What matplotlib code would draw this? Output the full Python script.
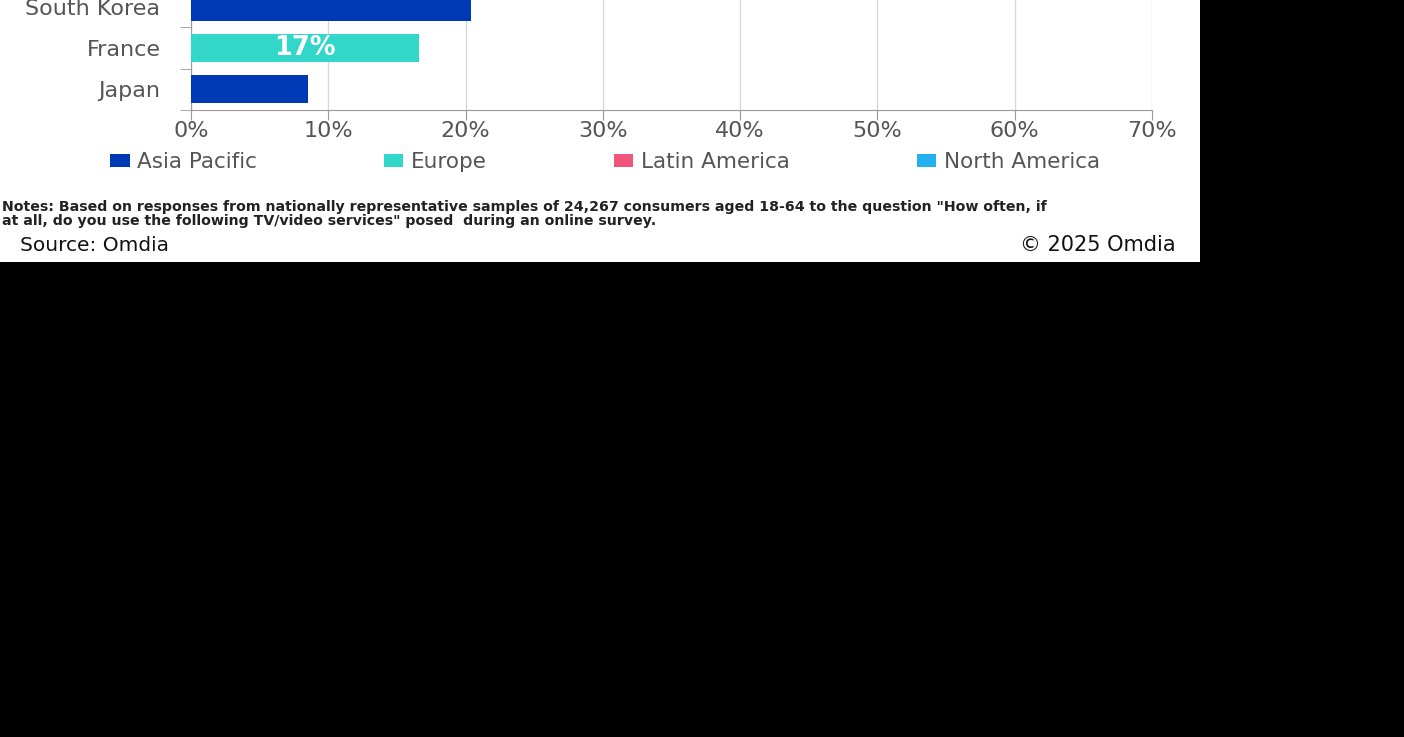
import matplotlib
matplotlib.use("Agg")
import matplotlib.pyplot as plt
from matplotlib.patches import Rectangle, Patch
from matplotlib.ticker import FuncFormatter, FixedLocator

# data (bottom to top)
countries = ["Japan", "France", "South Korea"]
values = [8.5, 16.6, 20.4]
regions = ["Asia Pacific", "Europe", "Asia Pacific"]
labels = ["", "17%", ""]

legend_names = ["Asia Pacific", "Europe", "Latin America", "North America"]
legend_colors = ["#0039b5", "#33d7c9", "#f2557a", "#22b0f2"]
region_color = dict(zip(legend_names, legend_colors))

notes = ('Notes: Based on responses from nationally representative samples of 24,267 consumers aged 18-64 to the question "How often, if\n'
         'at all, do you use the following TV/video services" posed  during an online survey.')

W, H = 1404, 737
FONT = "DejaVu Sans"
fig = plt.figure(figsize=(W / 100, H / 100), dpi=100, facecolor="black")


def fx(x):
    return x / W


def fy(y):
    return (H - y) / H


# white chart canvas in the upper-left part
fig.patches.append(Rectangle((0, fy(262)), fx(1200), 262 / H, transform=fig.transFigure,
                             facecolor="white", edgecolor="none", zorder=-1))

step = 41.3
ax = fig.add_axes([fx(191), fy(110), fx(1152) - fx(191), step * len(countries) / H])
ax.set_zorder(2)
ax.set_facecolor("white")
ypos = list(range(len(countries)))
cols = [region_color[r] for r in regions]
ax.barh(ypos, values, height=0.68, color=cols, zorder=3)
for y, v, lab in zip(ypos, values, labels):
    if lab:
        ax.text(v / 2, y, lab, ha="center", va="center", color="white",
                fontsize=18.5, fontweight="bold", family=FONT, zorder=4)

ax.set_xlim(0, 70)
ax.set_ylim(-0.5, len(countries) - 0.5)
ax.set_xticks(range(0, 71, 10))
ax.xaxis.set_major_formatter(FuncFormatter(lambda v, p: f"{v:.0f}%"))
ax.set_yticks(ypos)
ax.set_yticklabels(countries)
ax.yaxis.set_minor_locator(FixedLocator([i + 0.5 for i in range(-1, len(countries))]))
ax.tick_params(axis="y", which="major", length=0, pad=22, labelsize=16, labelcolor="#555555")
ax.tick_params(axis="y", which="minor", length=8, color="#999999")
ax.tick_params(axis="x", length=7, color="#999999", labelsize=16, labelcolor="#555555", pad=1)
for lab in ax.get_xticklabels() + ax.get_yticklabels():
    lab.set_family(FONT)
ax.grid(axis="x", color="#d9d9d9", linewidth=1, zorder=0)
for s in ["top", "right"]:
    ax.spines[s].set_visible(False)
for s in ["left", "bottom"]:
    ax.spines[s].set_color("#999999")

handles = [Patch(facecolor=c, edgecolor="none") for c in legend_colors]
fig.legend(handles, legend_names, loc="center", bbox_to_anchor=(fx(605), fy(162)), ncol=4,
           frameon=False, prop={"family": FONT, "size": 15.5}, labelcolor="#555555",
           handlelength=0.9, handleheight=0.6, handletextpad=0.35, columnspacing=5.9)

fig.text(fx(2), fy(214), notes, ha="left", va="center", fontsize=10.2, fontweight="bold",
         family=FONT, color="#222222", linespacing=0.95)
fig.text(fx(20), fy(245), "Source: Omdia", ha="left", va="center", fontsize=14.5,
         family=FONT, color="#111111")
fig.text(fx(1176), fy(245), "© 2025 Omdia", ha="right", va="center", fontsize=15,
         family=FONT, color="#111111")

fig.savefig("out.png", dpi=100, facecolor="black")
